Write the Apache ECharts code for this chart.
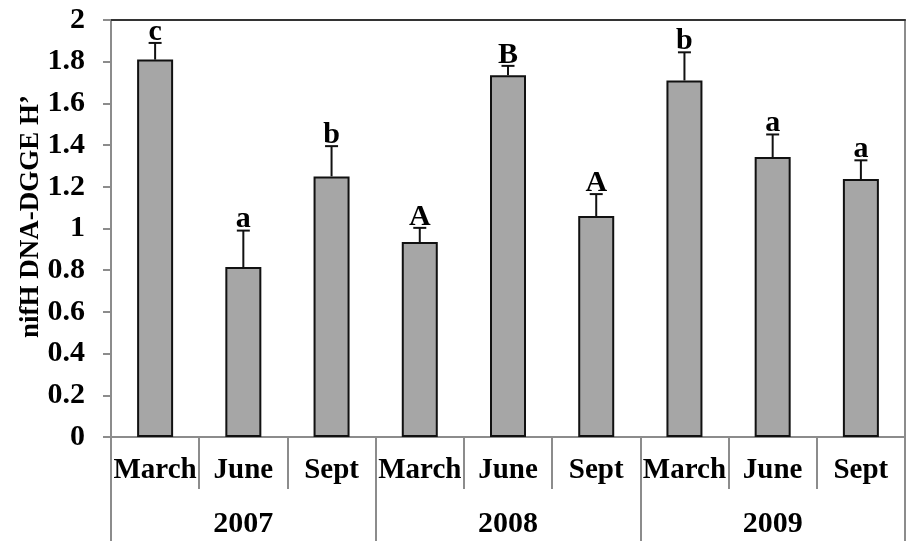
<!DOCTYPE html>
<html>
<head>
<meta charset="utf-8">
<script src="https://cdn.jsdelivr.net/npm/echarts@6/dist/echarts.min.js"></script>
<style>
html,body{margin:0;padding:0;background:#fff;}
#chart{width:906px;height:541px;}
</style>
</head>
<body>
<div id="chart"></div>
<script>
const months = ['March','June','Sept','March','June','Sept','March','June','Sept'];
const years = ['2007','2008','2009'];
const means = [1.81, 0.815, 1.25, 0.935, 1.735, 1.06, 1.71, 1.343, 1.237];
const errs = [0.08, 0.175, 0.145, 0.068, 0.045, 0.105, 0.135, 0.108, 0.09];
const letters = ['c','a','b','A','B','A','b','a','a'];
const yTicks = {min: 0, max: 2, interval: 0.2};

const FONT = '"Liberation Serif","Times New Roman",serif';
const GRAY = '#8c8c8c';

const chart = echarts.init(document.getElementById('chart'), null, {renderer: 'canvas'});

const errData = means.map((m, i) => [i, m, errs[i]]);

chart.setOption({
  animation: false,
  backgroundColor: '#ffffff',
  grid: {left: 111, right: 1, top: 20, bottom: 104, containLabel: false},
  xAxis: [
    {
      type: 'category', data: months, position: 'bottom',
      axisLine: {show: true, lineStyle: {color: GRAY, width: 2}},
      axisTick: {show: true, interval: 0, length: 52, lineStyle: {color: GRAY, width: 2}},
      axisLabel: {interval: 0, margin: 19, fontSize: 29, fontWeight: 'bold', fontFamily: FONT, color: '#000'},
      splitLine: {show: false}
    },
    {
      type: 'category', data: years, position: 'bottom',
      axisLine: {show: false},
      axisTick: {show: true, interval: 0, length: 104, lineStyle: {color: GRAY, width: 2}},
      axisLabel: {interval: 0, margin: 72, fontSize: 30, fontWeight: 'bold', fontFamily: FONT, color: '#000'},
      splitLine: {show: false}
    },
    {
      type: 'category', data: months, position: 'top',
      axisLine: {show: true, lineStyle: {color: '#333', width: 2}},
      axisTick: {show: false}, axisLabel: {show: false}, splitLine: {show: false}
    }
  ],
  yAxis: [
    {
      type: 'value', min: yTicks.min, max: yTicks.max, interval: yTicks.interval,
      name: 'nifH DNA-DGGE H\u2019', nameLocation: 'middle', nameRotate: 90, nameGap: 66,
      nameMoveOverlap: false,
      nameTextStyle: {fontSize: 27, fontWeight: 'bold', fontFamily: FONT, color: '#000', padding: [0, 0, 0, 24]},
      axisLine: {show: true, lineStyle: {color: GRAY, width: 2}},
      axisTick: {show: true, inside: false, length: 8, lineStyle: {color: GRAY, width: 2}},
      axisLabel: {margin: 26, fontSize: 30, fontWeight: 'bold', fontFamily: FONT, color: '#000'},
      splitLine: {show: false}
    },
    {
      type: 'value', min: yTicks.min, max: yTicks.max, interval: yTicks.interval, position: 'right',
      axisLine: {show: true, lineStyle: {color: GRAY, width: 2}},
      axisTick: {show: false}, axisLabel: {show: false}, splitLine: {show: false}
    }
  ],
  series: [
    {
      type: 'bar', data: means, barWidth: 36, xAxisIndex: 0, yAxisIndex: 0,
      itemStyle: {color: '#a6a6a6', borderColor: '#111', borderWidth: 2},
      z: 2
    },
    {
      type: 'custom', xAxisIndex: 0, yAxisIndex: 0, data: errData, z: 3,
      renderItem: function (params, api) {
        const i = api.value(0), m = api.value(1), e = api.value(2);
        const base = api.coord([i, m]);
        const top = api.coord([i, m + e]);
        const half = 6.5;
        return {
          type: 'group',
          children: [
            {type: 'line', shape: {x1: base[0], y1: base[1], x2: top[0], y2: top[1]}, style: {stroke: '#111', lineWidth: 2}},
            {type: 'line', shape: {x1: top[0] - half, y1: top[1], x2: top[0] + half, y2: top[1]}, style: {stroke: '#111', lineWidth: 2}},
            {type: 'text', style: {text: letters[params.dataIndex], x: top[0], y: top[1] + 4, align: 'center', verticalAlign: 'bottom', font: 'bold 30px ' + FONT, fill: '#000'}}
          ]
        };
      }
    }
  ]
});
</script>
</body>
</html>
